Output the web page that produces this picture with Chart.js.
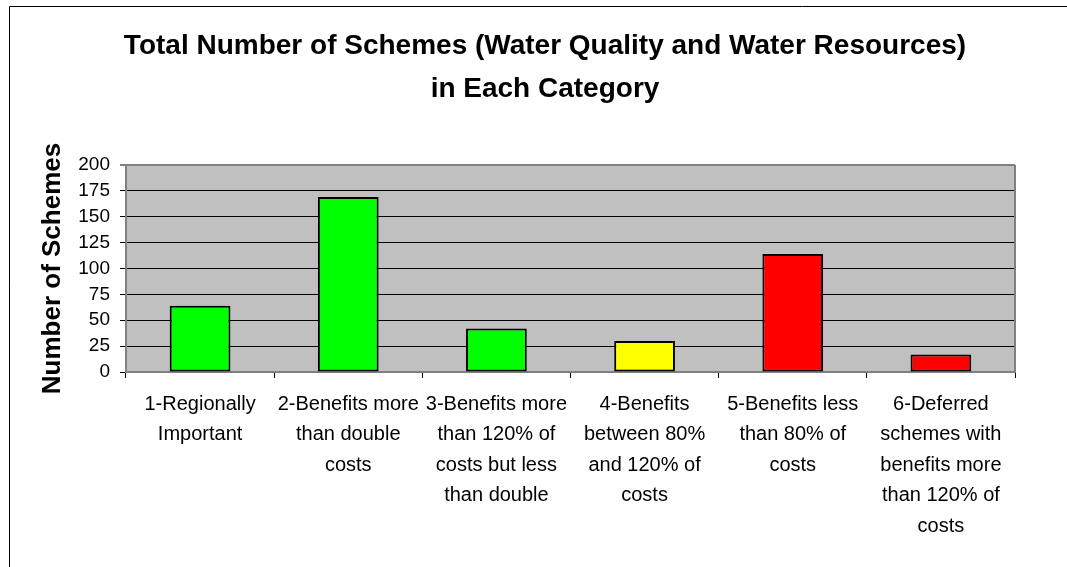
<!DOCTYPE html>
<html>
<head>
<meta charset="utf-8">
<script src="https://cdn.jsdelivr.net/npm/chart.js@4.4.1/dist/chart.umd.min.js"></script>
<style>
  html, body { margin: 0; padding: 0; background: #fff; overflow: hidden; }
  canvas { display: block; }
</style>
</head>
<body>
<canvas id="schemesChart" width="1067" height="567"></canvas>
<script>
// Scheme counts per category
const categories = [
  ["1-Regionally", "Important"],
  ["2-Benefits more", "than double", "costs"],
  ["3-Benefits more", "than 120% of", "costs but less", "than double"],
  ["4-Benefits", "between 80%", "and 120% of", "costs"],
  ["5-Benefits less", "than 80% of", "costs"],
  ["6-Deferred", "schemes with", "benefits more", "than 120% of", "costs"]
];
const schemeCounts = [64, 169, 42, 30, 114, 17];
const barColours = ["#00FF00", "#00FF00", "#00FF00", "#FFFF00", "#FF0000", "#FF0000"];
const yTicks = [0, 25, 50, 75, 100, 125, 150, 175, 200];
const titleLines = ["Total Number of Schemes (Water Quality and Water Resources)", "in Each Category"];

const FONT = "'Liberation Sans', Arial, sans-serif";

// grey plot area, right edge and the outer frame lines
const plotBackground = {
  id: "plotBackground",
  beforeDraw(chart) {
    const { ctx, chartArea: a } = chart;
    ctx.save();
    ctx.strokeStyle = "#000";
    ctx.lineWidth = 1;
    ctx.beginPath();
    ctx.moveTo(9.5, chart.height);
    ctx.lineTo(9.5, 6.5);
    ctx.lineTo(chart.width, 6.5);
    ctx.stroke();

    ctx.fillStyle = "#C0C0C0";
    ctx.fillRect(a.left, a.top, a.right - a.left, a.bottom - a.top);
    ctx.restore();
  },
  afterDatasetsDraw(chart) {
    const { ctx, chartArea: a } = chart;
    ctx.save();
    ctx.strokeStyle = "#808080";
    ctx.lineWidth = 2;
    ctx.beginPath();
    ctx.moveTo(a.right, a.top);
    ctx.lineTo(a.right, a.bottom);
    ctx.stroke();
    ctx.restore();
  }
};

// two-line heading, centred over the whole frame
const headingText = {
  id: "headingText",
  afterDraw(chart) {
    const ctx = chart.ctx;
    ctx.save();
    ctx.font = "bold 28px " + FONT;
    ctx.fillStyle = "#000";
    ctx.textAlign = "center";
    ctx.textBaseline = "middle";
    ctx.fillText(titleLines[0], 545, 46);
    ctx.fillText(titleLines[1], 545, 89);
    ctx.restore();
  }
};

new Chart(document.getElementById("schemesChart"), {
  type: "bar",
  data: {
    labels: categories,
    datasets: [{
      data: schemeCounts,
      backgroundColor: barColours,
      borderColor: "#000",
      borderWidth: 2,
      borderSkipped: false,
      categoryPercentage: 0.41,
      barPercentage: 1
    }]
  },
  plugins: [plotBackground, headingText],
  options: {
    responsive: false,
    animation: false,
    layout: { padding: { top: 165, left: 12, right: 52, bottom: 0 } },
    plugins: {
      legend: { display: false },
      title: { display: false },
      tooltip: { enabled: false }
    },
    scales: {
      x: {
        afterFit: scale => { scale.height = 195; },
        grid: {
          display: true,
          drawOnChartArea: false,
          drawTicks: true,
          tickLength: 6,
          color: "#000",
          offset: true
        },
        border: { display: true, color: "#808080", width: 2 },
        ticks: {
          color: "#000",
          font: { family: FONT, size: 20, lineHeight: 1.525 },
          padding: 11,
          maxRotation: 0,
          autoSkip: false
        }
      },
      y: {
        min: 0,
        max: 200,
        afterFit: scale => { scale.width = 114; },
        afterBuildTicks: scale => { scale.ticks = yTicks.map(v => ({ value: v })); },
        grid: {
          color: ctx => (ctx.tick && ctx.tick.value === 200 ? "#808080" : "#000"),
          lineWidth: ctx => (ctx.tick && ctx.tick.value === 200 ? 2 : 1),
          tickLength: 6
        },
        border: { display: true, color: "#808080", width: 2 },
        ticks: {
          color: "#000",
          font: { family: FONT, size: 19 },
          padding: 10
        },
        title: {
          display: true,
          text: "Number of Schemes",
          color: "#000",
          font: { family: FONT, size: 26, weight: "bold" },
          padding: { top: 25, bottom: 0 }
        }
      }
    }
  }
});
</script>
</body>
</html>
